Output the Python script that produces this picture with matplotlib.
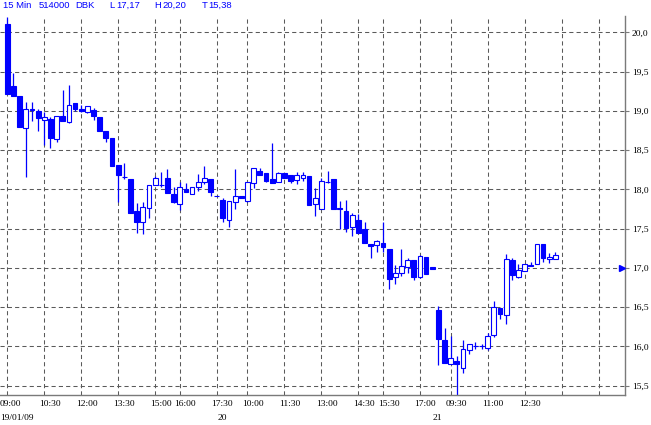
"""
Grafico de velas de 15 minutos (DBK, 19-21/01/09) al estilo de la terminal.
Velas azules: rellenas = bajistas, huecas = alcistas.
"""
import matplotlib
matplotlib.use("Agg")
import matplotlib.pyplot as plt
import matplotlib.ticker as mticker

# Datos OHLC (una vela cada 15 min)
aperturas = [20.11, 19.32, 19.19, 18.78, 19.03, 19.00, 18.89, 18.90, 18.64, 18.93,
             18.86, 19.10, 19.02, 18.99, 19.01, 18.92, 18.74, 18.65, 18.31, 18.16,
             18.13, 17.72, 17.58, 17.76, 18.05, 18.06, 18.14, 17.94, 17.82, 18.01,
             17.94, 18.03, 18.10, 18.13, 17.92, 17.86, 17.61, 17.84, 17.92, 17.85,
             18.08, 18.24, 18.21, 18.13, 18.09, 18.21, 18.18, 18.12, 18.14, 18.17,
             17.81, 17.75, 18.10, 18.13, 17.76, 17.72, 17.52, 17.61, 17.50, 17.30,
             17.29, 17.32, 17.24, 16.88, 16.93, 17.01, 17.10, 16.88, 17.14, 17.01,
             16.46, 16.08, 15.78, 15.81, 15.72, 15.95, 16.01, 16.01, 15.98, 16.15,
             16.49, 16.40, 17.10, 16.89, 16.96, 17.04, 17.05, 17.31, 17.11, 17.11]
maximos = [20.20, 19.48, 19.19, 19.11, 19.11, 19.02, 18.99, 18.92, 18.94, 19.27,
           19.33, 19.10, 19.07, 19.06, 19.04, 18.92, 18.74, 18.65, 18.31, 18.34,
           18.13, 17.83, 17.84, 18.06, 18.17, 18.22, 18.26, 18.03, 18.09, 18.08,
           18.03, 18.20, 18.30, 18.13, 17.92, 17.89, 17.85, 18.26, 17.92, 18.09,
           18.27, 18.27, 18.21, 18.59, 18.22, 18.21, 18.18, 18.22, 18.22, 18.17,
           18.02, 18.14, 18.23, 18.13, 17.85, 17.86, 17.70, 17.69, 17.58, 17.30,
           17.36, 17.58, 17.24, 17.04, 17.24, 17.13, 17.10, 17.17, 17.14, 17.01,
           16.51, 16.23, 16.13, 15.88, 16.08, 16.03, 16.05, 16.03, 16.17, 16.58,
           16.49, 17.18, 17.12, 17.05, 17.05, 17.07, 17.31, 17.31, 17.19, 17.20]
minimos = [19.22, 19.19, 18.79, 18.16, 18.87, 18.74, 18.56, 18.53, 18.61, 18.87,
           18.85, 19.00, 18.99, 18.98, 18.89, 18.75, 18.61, 18.30, 17.84, 18.13,
           17.70, 17.45, 17.43, 17.64, 18.05, 18.03, 17.96, 17.83, 17.74, 17.97,
           17.94, 17.98, 18.07, 17.92, 17.91, 17.58, 17.52, 17.75, 17.89, 17.84,
           18.02, 18.19, 18.09, 18.08, 18.09, 18.14, 18.08, 18.07, 18.11, 17.80,
           17.66, 17.75, 18.08, 17.75, 17.50, 17.46, 17.41, 17.45, 17.32, 17.12,
           17.20, 17.20, 16.73, 16.80, 16.90, 16.94, 16.85, 16.87, 16.92, 16.99,
           15.76, 15.79, 15.78, 15.38, 15.66, 15.90, 15.96, 15.96, 15.95, 16.12,
           16.35, 16.29, 16.85, 16.87, 16.96, 17.02, 17.05, 17.08, 17.06, 17.11]
cierres = [19.22, 19.19, 18.79, 19.02, 19.01, 18.91, 18.92, 18.66, 18.94, 18.87,
           19.08, 19.02, 19.00, 19.06, 18.93, 18.75, 18.66, 18.30, 18.19, 18.16,
           17.70, 17.59, 17.77, 18.06, 18.15, 18.06, 17.96, 17.84, 18.03, 17.97,
           18.03, 18.09, 18.14, 17.97, 17.91, 17.63, 17.85, 17.92, 17.89, 18.09,
           18.27, 18.19, 18.11, 18.08, 18.21, 18.14, 18.11, 18.18, 18.18, 17.80,
           17.89, 18.11, 18.10, 17.75, 17.75, 17.51, 17.67, 17.45, 17.32, 17.28,
           17.34, 17.27, 16.86, 16.94, 17.02, 17.10, 16.89, 17.15, 16.92, 16.99,
           16.10, 15.79, 15.85, 15.77, 15.96, 16.03, 16.01, 16.01, 16.13, 16.50,
           16.41, 17.11, 16.91, 16.97, 17.05, 17.02, 17.31, 17.13, 17.14, 17.17]

# Eje X: posiciones (indice de vela) y etiquetas horarias
ticks_x = [0, 6, 12, 18, 24, 28, 34, 39, 45, 51, 57, 61, 67, 72, 78, 84, 90, 96]
etiquetas_x = ["09:00", "10:30", "12:00", "13:30", "15:00", "16:00", "17:30",
               "10:00", "11:30", "13:00", "14:30", "15:30", "17:00",
               "09:30", "11:00", "12:30", "", ""]
# Inicio de cada sesion (fecha)
dias_x = [0, 35, 70]
dias_etiquetas = ["19/01/09", "20", "21"]

ticks_y = [15.5, 16.0, 16.5, 17.0, 17.5, 18.0, 18.5, 19.0, 19.5, 20.0]
marca_precio = 17.0

cabecera = [("15 Min", 2.7), ("514000", 39), ("DBK", 75.7), ("L", 109),
            ("17,17", 116), ("H", 154.7), ("20,20", 162), ("T", 201.7),
            ("15,38", 208.7)]

AZUL = "#0000FF"
GRIS_GRID = "#5a5a5a"
GRIS_EJE = "#7a7a7a"
W, H = 651, 425
PX = 72 / 100  # puntos por pixel

fig = plt.figure(figsize=(W / 100, H / 100), dpi=100)
fig.patch.set_facecolor("white")
ax = fig.add_axes([0, 30 / H, 625 / W, (395 - 16) / H])

n = len(aperturas)
idx = list(range(n))

# Mechas (detras del cuerpo)
ax.vlines(idx, minimos, maximos, color=AZUL, linewidth=0.9, zorder=2)

# Cuerpos: rellenos si baja, huecos si sube
bajo = [min(o, c) for o, c in zip(aperturas, cierres)]
alto = [abs(c - o) for o, c in zip(aperturas, cierres)]
relleno = [AZUL if c < o else "white" for o, c in zip(aperturas, cierres)]
ax.bar(idx, alto, bottom=bajo, width=0.78, color=relleno,
       edgecolor=AZUL, linewidth=0.8, zorder=3)

ax.set_xlim(-1.19, 100.3)
ax.set_ylim(15.38, 20.21)

# Grid discontinuo gris
ax.set_xticks(ticks_x)
ax.set_xticklabels([])
ax.tick_params(axis="x", length=0)
ax.grid(True, color=GRIS_GRID, linestyle=(0, (4, 3)), linewidth=0.75)
ax.set_axisbelow(True)

# Eje Y a la derecha, coma decimal
ax.yaxis.tick_right()
ax.set_yticks(ticks_y)
ax.yaxis.set_major_formatter(
    mticker.FuncFormatter(lambda v, _p: f"{v:.1f}".replace(".", ",")))
ax.tick_params(axis="y", length=3, width=0.8, color=GRIS_EJE, pad=2,
               labelsize=6.8, labelcolor="black")
for lbl in ax.get_yticklabels():
    lbl.set_fontfamily("Liberation Serif")

for s in ("top", "left"):
    ax.spines[s].set_visible(False)
for s in ("right", "bottom"):
    ax.spines[s].set_color(GRIS_EJE)
    ax.spines[s].set_linewidth(1.0)

# Etiquetas de hora, alineadas a la izquierda un poco antes de la marca
for pos, txt in zip(ticks_x, etiquetas_x):
    if not txt:
        continue
    dx = -7.3 if pos == 0 else -5.3
    ax.annotate(txt, xy=(pos, 0), xycoords=("data", "axes fraction"),
                xytext=(dx * PX, -9 * PX), textcoords="offset points",
                ha="left", va="center", fontsize=6.8,
                family="Liberation Serif", color="black")
for pos, txt in zip(dias_x, dias_etiquetas):
    dx = -7.3 if pos == 0 else -5.8
    ax.annotate(txt, xy=(pos, 0), xycoords=("data", "axes fraction"),
                xytext=(dx * PX, -23 * PX), textcoords="offset points",
                ha="left", va="center", fontsize=6.8,
                family="Liberation Serif", color="black")

# Marca del precio en el eje derecho
ax.plot([1 - 3 / 625], [marca_precio], transform=ax.get_yaxis_transform(),
        marker=">", markersize=4.5, color=AZUL, clip_on=False, zorder=5)

# Cabecera azul
for txt, x in cabecera:
    fig.text(x / W, 1 - 5.5 / H, txt, ha="left", va="center", color=AZUL,
             fontsize=6.8, family="Liberation Sans")

fig.savefig("out.png", dpi=100)
plt.close(fig)
